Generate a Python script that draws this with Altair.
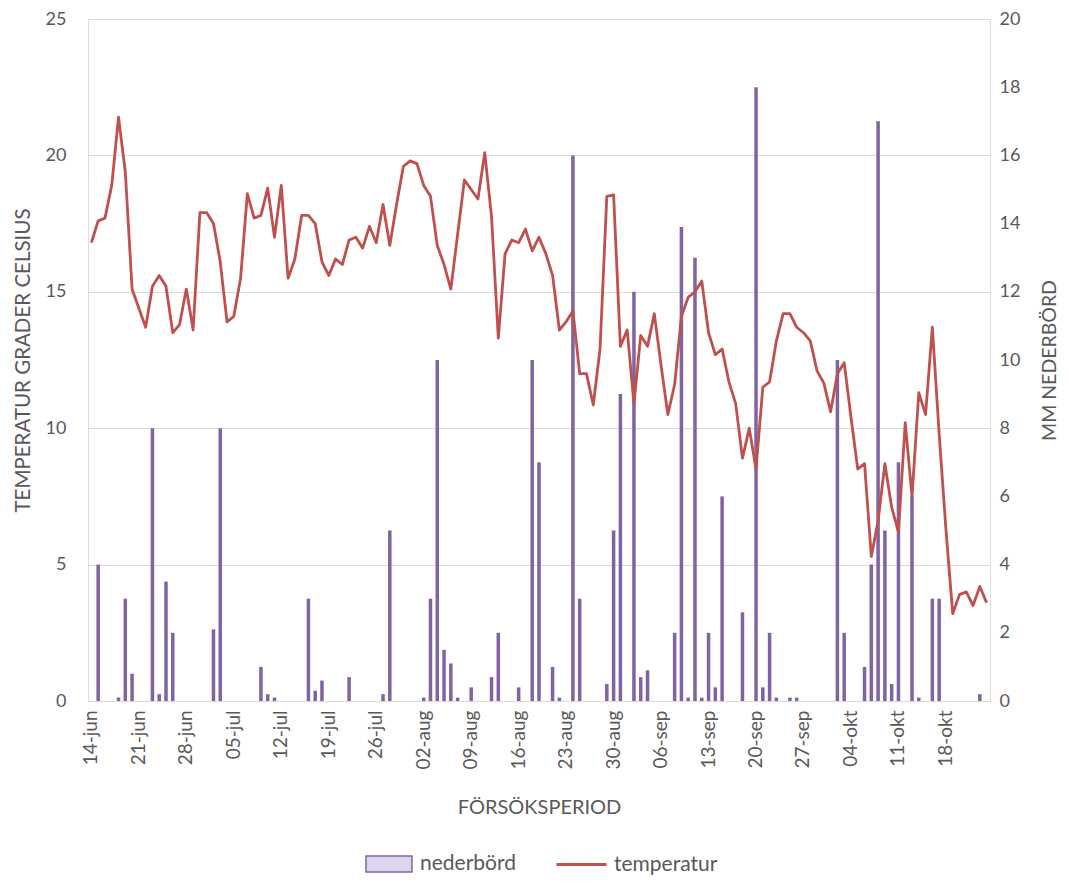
import altair as alt
import pandas as pd

# Swedish month abbreviations for the day labels
month_abbr = {6: "jun", 7: "jul", 8: "aug", 9: "sep", 10: "okt"}
start_date = "2019-06-14"
n_days = 133

temperature = [
    16.8, 17.6, 17.7, 18.9, 21.4, 19.4, 15.1, 14.4, 13.7, 15.2,
    15.6, 15.2, 13.5, 13.8, 15.1, 13.6, 17.9, 17.9, 17.5, 16.1,
    13.9, 14.1, 15.5, 18.6, 17.7, 17.8, 18.8, 17.0, 18.9, 15.5,
    16.2, 17.8, 17.8, 17.5, 16.1, 15.6, 16.2, 16.0, 16.9, 17.0,
    16.6, 17.4, 16.8, 18.2, 16.7, 18.2, 19.6, 19.8, 19.7, 18.9,
    18.5, 16.7, 16.0, 15.1, 17.1, 19.1, 18.75, 18.4, 20.1, 17.75,
    13.3, 16.4, 16.9, 16.8, 17.3, 16.5, 17.0, 16.4, 15.6, 13.6,
    13.9, 14.3, 12.0, 12.0, 10.85, 12.9, 18.5, 18.55, 13.0, 13.6,
    10.9, 13.4, 13.0, 14.2, 12.3, 10.5, 11.6, 14.1, 14.8, 15.0,
    15.4, 13.5, 12.7, 12.9, 11.7, 10.9, 8.9, 10.0, 8.5, 11.5,
    11.7, 13.2, 14.2, 14.2, 13.7, 13.5, 13.2, 12.1, 11.65, 10.6,
    12.0, 12.4, 10.4, 8.5, 8.7, 5.3, 6.6, 8.7, 7.1, 6.2,
    10.2, 7.5, 11.3, 10.5, 13.7, 9.8, 6.3, 3.2, 3.9, 4.0,
    3.5, 4.2, 3.6,
]

precipitation = [
    0, 4.0, 0, 0, 0.1, 3.0, 0.8, 0, 0, 8.0,
    0.2, 3.5, 2.0, 0, 0, 0, 0, 0, 2.1, 8.0,
    0, 0, 0, 0, 0, 1.0, 0.2, 0.1, 0, 0,
    0, 0, 3.0, 0.3, 0.6, 0, 0, 0, 0.7, 0,
    0, 0, 0, 0.2, 5.0, 0, 0, 0, 0, 0.1,
    3.0, 10.0, 1.5, 1.1, 0.1, 0, 0.4, 0, 0, 0.7,
    2.0, 0, 0, 0.4, 0, 10.0, 7.0, 0, 1.0, 0.1,
    0, 16.0, 3.0, 0, 0, 0, 0.5, 5.0, 9.0, 0,
    12.0, 0.7, 0.9, 0, 0, 0, 2.0, 13.9, 0.1, 13.0,
    0.1, 2.0, 0.4, 6.0, 0, 0, 2.6, 0, 18.0, 0.4,
    2.0, 0.1, 0, 0.1, 0.1, 0, 0, 0, 0, 0,
    10.0, 2.0, 0, 0, 1.0, 4.0, 17.0, 5.0, 0.5, 7.0,
    0, 6.0, 0.1, 0, 3.0, 3.0, 0, 0, 0, 0,
    0, 0.2, 0,
]

left_ticks = [0, 5, 10, 15, 20, 25]
right_ticks = [0, 2, 4, 6, 8, 10, 12, 14, 16, 18, 20]

dates = pd.date_range(start_date, periods=n_days, freq="D")
labels = [f"{d.day:02d}-{month_abbr[d.month]}" for d in dates]
tick_labels = labels[::7]

df = pd.DataFrame({
    "dag": labels,
    "temp": temperature,
    "regn": precipitation,
    "s1": "nederbörd",
    "s2": "temperatur",
})

PURPLE = "#8064A2"
LIGHT_PURPLE = "#DCD4EC"
RED = "#C0504D"
GRID = "#D9D9D9"
TXT = "#595959"
FONT = "Lato"

x_enc = alt.X(
    "dag:N",
    sort=None,
    scale=alt.Scale(domain=labels, paddingInner=0.48, paddingOuter=0.24),
    axis=alt.Axis(
        values=tick_labels,
        labelAngle=270,
        labelFontSize=19,
        labelColor=TXT,
        labelFont=FONT,
        labelPadding=9,
        ticks=False,
        domain=True,
        domainColor=GRID,
        grid=False,
        title="FÖRSÖKSPERIOD",
        titleFontSize=20,
        titleFontWeight="normal",
        titleColor=TXT,
        titleFont=FONT,
        titlePadding=28,
    ),
)

bars = (
    alt.Chart(df)
    .transform_filter("datum.regn > 0")
    .mark_bar(fill=PURPLE)
    .encode(
        x=x_enc,
        y=alt.Y(
            "regn:Q",
            scale=alt.Scale(domain=[0, 20], nice=False),
            axis=alt.Axis(
                orient="right",
                values=right_ticks,
                grid=False,
                ticks=False,
                domain=False,
                labelFontSize=18,
                labelColor=TXT,
                labelFont=FONT,
                labelPadding=9,
                title="MM NEDERBÖRD",
                titleAngle=270,
                titleFontSize=19.5,
                titleFontWeight="normal",
                titleColor=TXT,
                titleFont=FONT,
                titlePadding=40,
            ),
        ),
    )
)

line = (
    alt.Chart(df)
    .mark_line(strokeWidth=2.8, strokeJoin="round")
    .encode(
        x=x_enc,
        y=alt.Y(
            "temp:Q",
            scale=alt.Scale(domain=[0, 25], nice=False),
            axis=alt.Axis(
                orient="left",
                values=left_ticks,
                grid=True,
                gridColor=GRID,
                gridWidth=1,
                ticks=False,
                domain=False,
                labelFontSize=18,
                labelColor=TXT,
                labelFont=FONT,
                labelPadding=22,
                title="TEMPERATUR GRADER CELSIUS",
                titleFontSize=20.5,
                titleFontWeight="normal",
                titleColor=TXT,
                titleFont=FONT,
                titlePadding=12,
            ),
        ),
        stroke=alt.Stroke(
            "s2:N",
            scale=alt.Scale(domain=["temperatur"], range=[RED]),
            legend=alt.Legend(
                title=None,
                orient="none",
                legendX=467,
                legendY=819,
                symbolType="stroke",
                symbolSize=2500,
                symbolStrokeWidth=3,
                labelFontSize=21,
                labelColor=TXT,
                labelFont=FONT,
                labelOffset=6,
            ),
        ),
    )
)

# legend-only layer for the precipitation series (no rows are drawn)
bar_key = (
    alt.Chart(df)
    .transform_filter("false")
    .mark_point(filled=True, fill=LIGHT_PURPLE, strokeWidth=1.5, opacity=1)
    .encode(
        stroke=alt.Stroke(
            "s1:N",
            scale=alt.Scale(domain=["nederbörd"], range=[PURPLE]),
            legend=alt.Legend(
                title=None,
                orient="none",
                legendX=277,
                legendY=821,
                symbolType="M-1,-0.35h2v0.7h-2z",
                symbolSize=2116,
                symbolFillColor=LIGHT_PURPLE,
                symbolStrokeWidth=1.5,
                symbolOpacity=1,
                labelFontSize=21,
                labelColor=TXT,
                labelFont=FONT,
                labelOffset=7,
            ),
        ),
    )
)

chart = (
    alt.layer(bars, line, bar_key)
    .resolve_scale(y="independent", stroke="independent")
    .properties(
        width=902,
        height=682,
        autosize=alt.AutoSizeParams(type="none"),
        padding={"left": 80, "top": 11, "right": 71, "bottom": 175},
    )
    .configure_view(stroke=None)
    .configure(font=FONT)
)

chart.save("out.html", embed_options={"renderer": "svg", "actions": False})
